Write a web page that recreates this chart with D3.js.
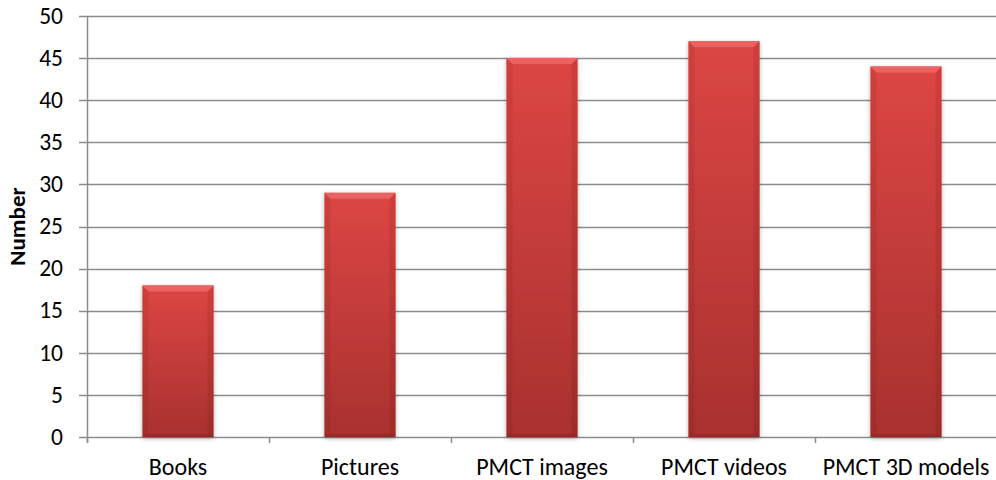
<!DOCTYPE html>
<html>
<head>
<meta charset="utf-8">
<script src="https://cdn.jsdelivr.net/npm/d3@7/dist/d3.min.js"></script>
<style>
  html, body { margin: 0; padding: 0; background: #fff; }
  svg { display: block; }
  text { font-family: Carlito, "Open Sans", "Liberation Sans", sans-serif; fill: #000; }
</style>
</head>
<body>
<svg id="chart" width="996" height="480"></svg>
<script>
// Chart data
const categories = ["Books", "Pictures", "PMCT images", "PMCT videos", "PMCT 3D models"];
const values = [18, 29, 45, 47, 44];
const yTicks = [0, 5, 10, 15, 20, 25, 30, 35, 40, 45, 50];
const yTitle = "Number";

const W = 996, H = 480;
const margin = { left: 87, right: -1, top: 16, bottom: 43 };

const svg = d3.select("#chart");

const x = d3.scaleBand()
  .domain(categories)
  .range([margin.left, W - margin.right])
  .paddingInner(0.61)
  .paddingOuter(0.305);

const y = d3.scaleLinear()
  .domain([0, 50])
  .range([H - margin.bottom, margin.top]);

const defs = svg.append("defs");

const grad = defs.append("linearGradient")
  .attr("id", "barFill").attr("x1", 0).attr("y1", 0).attr("x2", 0).attr("y2", 1);
grad.append("stop").attr("offset", "0%").attr("stop-color", "#dc4644");
grad.append("stop").attr("offset", "100%").attr("stop-color", "#a9312f");

const sideGrad = defs.append("linearGradient")
  .attr("id", "sideFill").attr("x1", 0).attr("y1", 0).attr("x2", 0).attr("y2", 1);
sideGrad.append("stop").attr("offset", "0%").attr("stop-color", "#c83a38");
sideGrad.append("stop").attr("offset", "100%").attr("stop-color", "#962a28");

const shadow = defs.append("filter").attr("id", "shadow")
  .attr("x", "-20%").attr("y", "-10%").attr("width", "140%").attr("height", "130%");
shadow.append("feDropShadow")
  .attr("dx", 0).attr("dy", 1.5).attr("stdDeviation", 2)
  .attr("flood-color", "#000").attr("flood-opacity", 0.3);

// Gridlines and y ticks
const gridColor = "#8c8c8c";
svg.append("g")
  .selectAll("line")
  .data(yTicks)
  .join("line")
  .attr("x1", margin.left - 8)
  .attr("x2", W)
  .attr("y1", d => Math.round(y(d)) + 0.5)
  .attr("y2", d => Math.round(y(d)) + 0.5)
  .attr("stroke", gridColor)
  .attr("stroke-width", 1.5);

// Y axis line
svg.append("line")
  .attr("x1", margin.left + 0.5).attr("x2", margin.left + 0.5)
  .attr("y1", y(50)).attr("y2", y(0) + 6)
  .attr("stroke", gridColor).attr("stroke-width", 1.5);

// X tick marks at category boundaries
const step = x.step();
const boundaries = d3.range(categories.length + 1).map(i => margin.left + i * step);
svg.append("g")
  .selectAll("line")
  .data(boundaries)
  .join("line")
  .attr("x1", d => Math.round(d) + 0.5)
  .attr("x2", d => Math.round(d) + 0.5)
  .attr("y1", y(0))
  .attr("y2", y(0) + 6)
  .attr("stroke", gridColor)
  .attr("stroke-width", 1.5);

// Y tick labels
svg.append("g")
  .selectAll("text")
  .data(yTicks)
  .join("text")
  .attr("x", margin.left - 24)
  .attr("y", d => y(d))
  .attr("dy", "0.33em")
  .attr("text-anchor", "end")
  .attr("font-size", 23.5)
  .text(d => d);

// Y axis title
svg.append("text")
  .attr("transform", `translate(25,${(y(0) + y(50)) / 2}) rotate(-90)`)
  .attr("text-anchor", "middle")
  .attr("font-size", 23)
  .attr("font-weight", "bold")
  .text(yTitle);

// Bars with bevelled edges
const bev = 6;
const bars = svg.append("g")
  .selectAll("g")
  .data(categories.map((c, i) => ({ c, v: values[i] })))
  .join("g")
  .attr("filter", "url(#shadow)");

bars.append("rect")
  .attr("x", d => x(d.c))
  .attr("y", d => y(d.v))
  .attr("width", x.bandwidth())
  .attr("height", d => y(0) - y(d.v))
  .attr("fill", "url(#barFill)");

// left and right bevel strips
bars.append("path")
  .attr("d", d => {
    const x0 = x(d.c), y0 = y(d.v), y1 = y(0);
    return `M${x0},${y0}L${x0 + bev},${y0 + bev}L${x0 + bev},${y1}L${x0},${y1}Z`;
  })
  .attr("fill", "url(#sideFill)").attr("opacity", 0.55);
bars.append("path")
  .attr("d", d => {
    const x1 = x(d.c) + x.bandwidth(), y0 = y(d.v), y1 = y(0);
    return `M${x1},${y0}L${x1 - bev},${y0 + bev}L${x1 - bev},${y1}L${x1},${y1}Z`;
  })
  .attr("fill", "url(#sideFill)").attr("opacity", 0.65);

// top bevel
bars.append("path")
  .attr("d", d => {
    const x0 = x(d.c), x1 = x0 + x.bandwidth(), y0 = y(d.v);
    return `M${x0},${y0}L${x1},${y0}L${x1 - bev},${y0 + bev}L${x0 + bev},${y0 + bev}Z`;
  })
  .attr("fill", "#ea6462");

// bottom bevel
bars.append("path")
  .attr("d", d => {
    const x0 = x(d.c), x1 = x0 + x.bandwidth(), y1 = y(0);
    return `M${x0},${y1}L${x1},${y1}L${x1 - 3},${y1 - 3}L${x0 + 3},${y1 - 3}Z`;
  })
  .attr("fill", "#8e2624").attr("opacity", 0.6);

// X category labels
svg.append("g")
  .selectAll("text")
  .data(categories)
  .join("text")
  .attr("x", d => x(d) + x.bandwidth() / 2)
  .attr("y", 475)
  .attr("text-anchor", "middle")
  .attr("font-size", 24)
  .text(d => d);
</script>
</body>
</html>
